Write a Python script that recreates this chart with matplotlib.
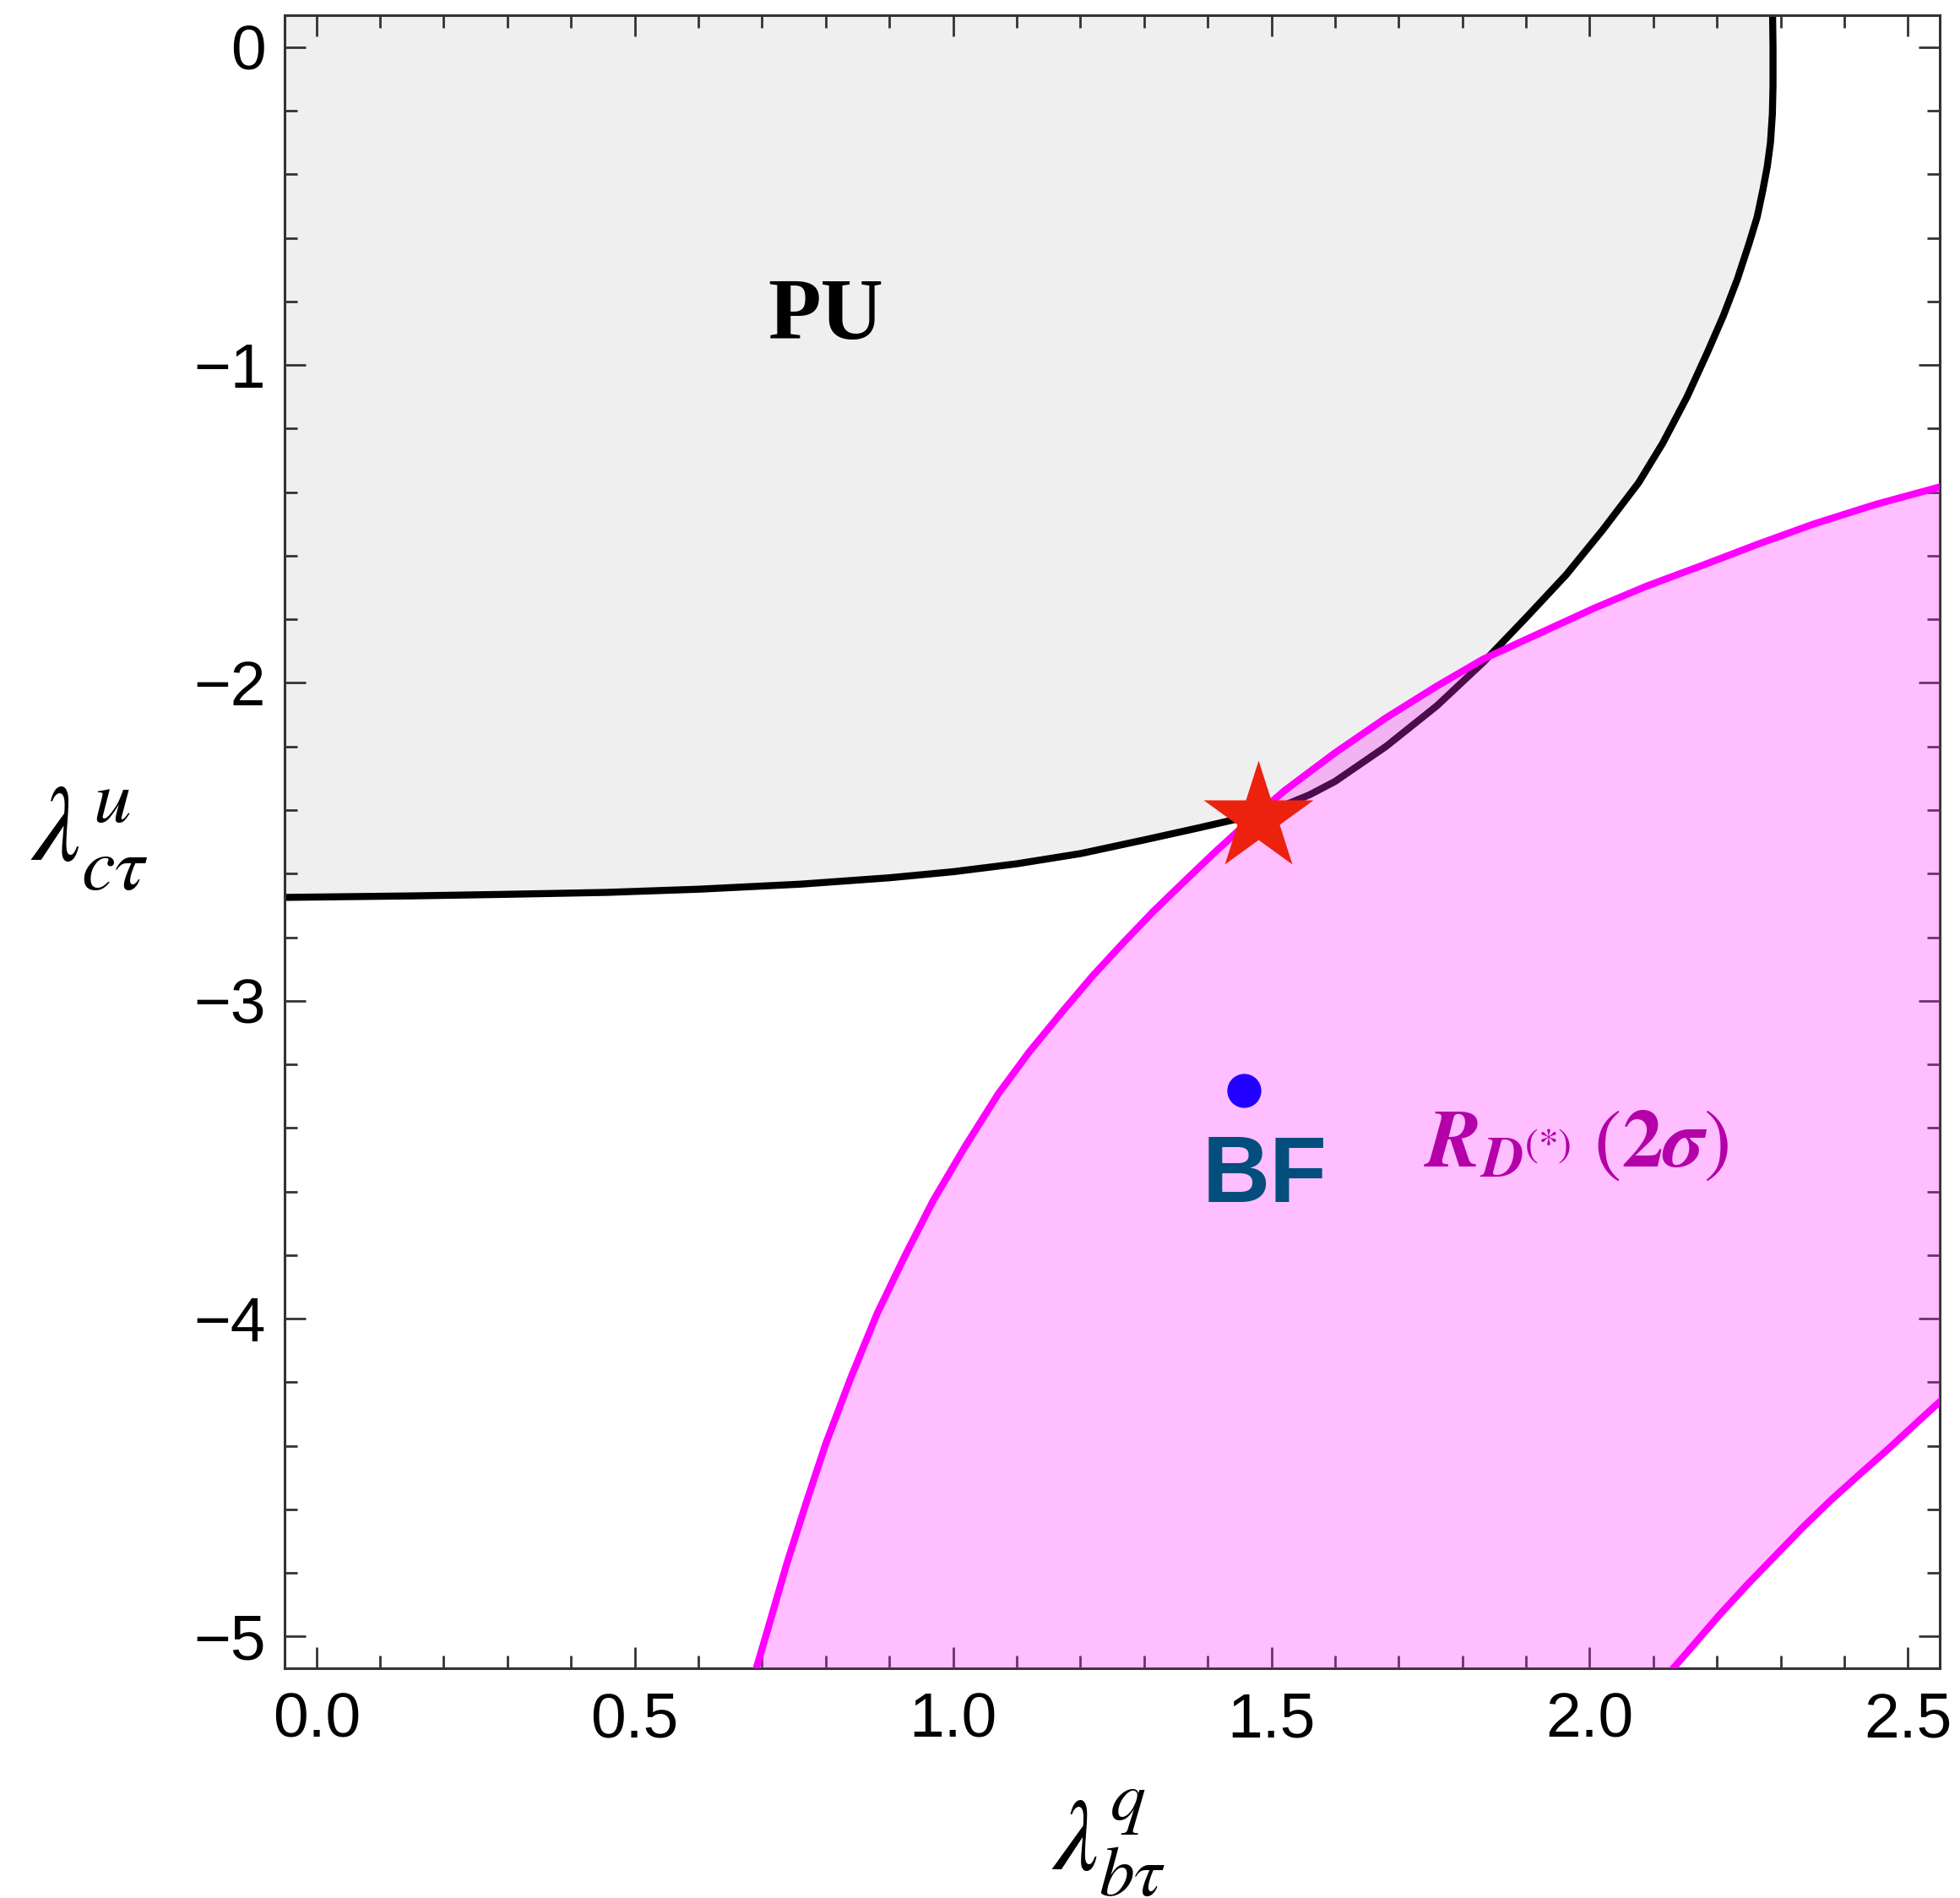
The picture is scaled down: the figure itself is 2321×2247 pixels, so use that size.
import matplotlib
matplotlib.use("Agg")
import matplotlib.pyplot as plt
from matplotlib.ticker import MultipleLocator

# Межа області пертурбативної унітарності (PU), точки
pu_x = [-0.06, 0.15, 0.30, 0.456, 0.60, 0.761, 0.90, 1.00, 1.10, 1.20, 1.30,
        1.388, 1.453, 1.52, 1.56, 1.60, 1.68, 1.76, 1.833, 1.90, 1.963, 2.02,
        2.077, 2.115, 2.153, 2.185, 2.21, 2.232, 2.25, 2.263, 2.272, 2.279,
        2.284, 2.287, 2.288, 2.288, 2.287]
pu_y = [-2.675, -2.670, -2.665, -2.659, -2.649, -2.633, -2.613, -2.594, -2.569,
        -2.537, -2.494, -2.455, -2.425, -2.385, -2.352, -2.31, -2.20, -2.072,
        -1.935, -1.795, -1.66, -1.52, -1.37, -1.245, -1.10, -0.96, -0.845,
        -0.73, -0.62, -0.535, -0.45, -0.375, -0.30, -0.21, -0.12, 0.0, 0.15]

# Верхня межа області R_D(*) (2 sigma)
rd_up_x = [0.688, 0.71, 0.739, 0.77, 0.80, 0.84, 0.881, 0.925, 0.969, 1.02,
           1.071, 1.12, 1.173, 1.22, 1.269, 1.315, 1.363, 1.41, 1.451, 1.52,
           1.60, 1.68, 1.76, 1.833, 1.92, 2.007, 2.09, 2.18, 2.265, 2.352,
           2.45, 2.56]
rd_up_y = [-5.12, -4.97, -4.77, -4.575, -4.394, -4.183, -3.983, -3.80, -3.628,
           -3.455, -3.293, -3.160, -3.031, -2.920, -2.814, -2.718, -2.625,
           -2.535, -2.46, -2.34, -2.22, -2.11, -2.01, -1.925, -1.845, -1.765,
           -1.695, -1.628, -1.563, -1.500, -1.438, -1.378]

# Нижня межа області R_D(*) (2 sigma)
rd_lo_x = [2.12, 2.165, 2.203, 2.247, 2.291, 2.335, 2.380, 2.425, 2.469, 2.515, 2.56]
rd_lo_y = [-5.126, -5.022, -4.934, -4.838, -4.747, -4.656, -4.569, -4.488,
           -4.410, -4.325, -4.243]

# Точки: зірка та найкраща підгонка (BF)
star_pt = (1.48, -2.425)
bf_pt = (1.457, -3.283)

x_ticks = [0.0, 0.5, 1.0, 1.5, 2.0, 2.5]
x_labels = ["0.0", "0.5", "1.0", "1.5", "2.0", "2.5"]
y_ticks = [0, -1, -2, -3, -4, -5]
y_labels = ["0", "\u22121", "\u22122", "\u22123", "\u22124", "\u22125"]
x_lim = (-0.05, 2.55)
y_lim = (-5.1, 0.1)

plt.rcParams['font.family'] = ['Liberation Sans', 'DejaVu Sans']
plt.rcParams['mathtext.fontset'] = 'stix'

fig = plt.figure(figsize=(23.21, 22.47), dpi=100)
ax = fig.add_axes([0.1452, 0.1210, 0.8445, 0.8709])

# Область PU (сіра) та її межа
ax.fill_between(pu_x, pu_y, y_lim[1] + 1, color='#EFEFEF', lw=0, zorder=1)
ax.plot(pu_x, pu_y, color='black', lw=6, zorder=2)

# Область R_D(*) (рожева)
poly_x = rd_up_x + rd_lo_x[::-1]
poly_y = rd_up_y + rd_lo_y[::-1]
ax.fill(poly_x, poly_y, color='#FF2AFF', alpha=0.3, lw=0, zorder=3)
ax.plot(rd_up_x, rd_up_y, color='#FF00FF', lw=6, zorder=4)
ax.plot(rd_lo_x, rd_lo_y, color='#FF00FF', lw=6, zorder=4)

ax.plot(*star_pt, marker='*', ms=98, color='#EC220F', mec='none', zorder=6)
ax.plot(*bf_pt, marker='o', ms=29, color='#2200FF', mec='none', zorder=6)

ax.text(0.80, -0.85, "PU", fontsize=74, fontweight='bold', family='Liberation Serif',
        ha='center', va='center', zorder=7)
ax.text(1.489, -3.555, "BF", fontsize=80, fontweight='bold', color='#034E7C',
        ha='center', va='center', zorder=7)
ax.text(1.740, -3.52,
        r"$\mathbfit{R}_{\mathbfit{D}^{(*)}}\;(\mathbf{2}\mathbfit{\sigma})$",
        fontsize=70, color='#B400A8', ha='left', va='baseline', zorder=7)

ax.set_xlim(*x_lim)
ax.set_ylim(*y_lim)
ax.set_xticks(x_ticks)
ax.set_xticklabels(x_labels)
ax.set_yticks(y_ticks)
ax.set_yticklabels(y_labels)
ax.xaxis.set_minor_locator(MultipleLocator(0.1))
ax.yaxis.set_minor_locator(MultipleLocator(0.2))
ax.tick_params(which='both', direction='in', top=True, right=True,
               color='#333333', width=2)
ax.tick_params(which='major', length=18, labelsize=54)
ax.tick_params(which='minor', length=11)
ax.tick_params(axis='x', which='major', pad=20)
ax.tick_params(axis='y', which='major', pad=16)
for sp in ax.spines.values():
    sp.set_linewidth(2.2)
    sp.set_color('#333333')

ax.set_xlabel(r"$\lambda^{q}_{b\tau}$", fontsize=86)
ax.set_ylabel(r"$\lambda^{u}_{c\tau}$", fontsize=92, rotation=0, ha='center', va='center')
ax.xaxis.label.set_va('center')
ax.xaxis.set_label_coords(0.498, -0.106)
ax.yaxis.set_label_coords(-0.118, 0.502)

fig.savefig("out.png", dpi=100)
